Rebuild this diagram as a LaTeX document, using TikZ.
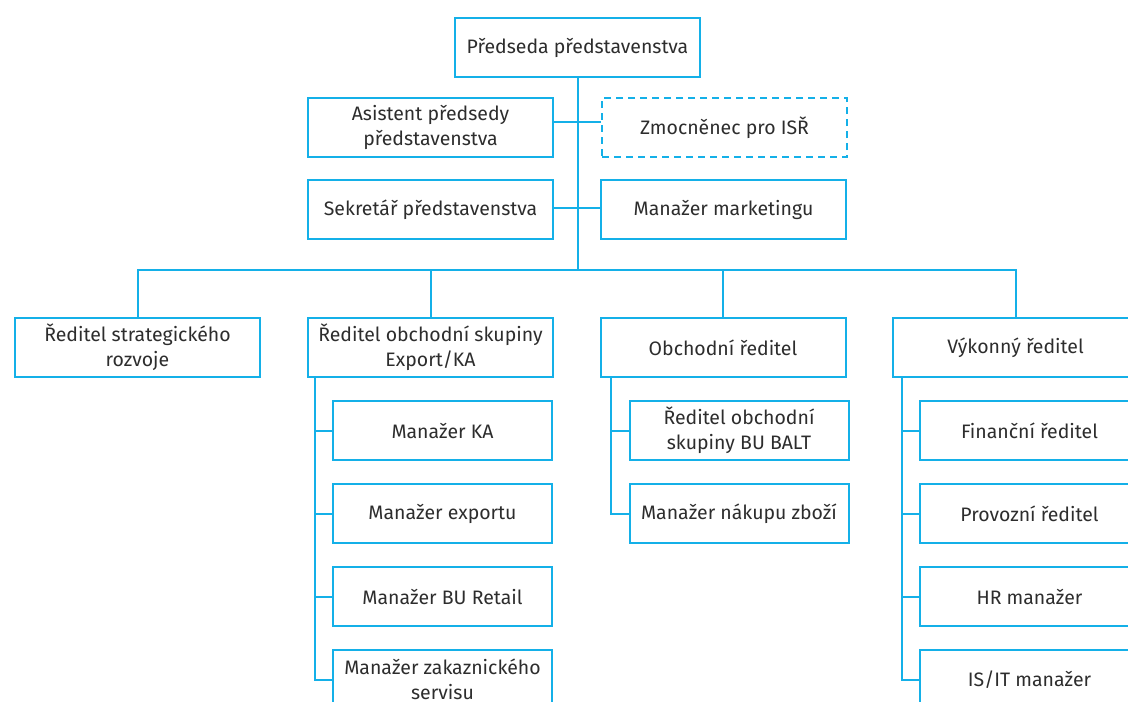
\documentclass[tikz,border=0pt]{standalone}
\usepackage{fontspec}
\setmainfont{Fira Sans}
\definecolor{orgblue}{RGB}{20,176,232}
\definecolor{orgtext}{RGB}{45,45,45}
\tikzset{every picture/.style={line width=1.5pt}}
\tikzset{
  orgbox/.style={draw=orgblue, fill=white, line width=1.5pt, minimum width=183.75pt, minimum height=44.25pt,
    inner sep=0pt, align=center, text=orgtext, font=\fontsize{14.6}{18.75}\selectfont},
  subbox/.style={orgbox, minimum width=164.25pt},
  dashbox/.style={orgbox, dash pattern=on 5.25pt off 3.75pt},
  link/.style={draw=orgblue, line width=1.5pt}
}

\begin{document}
\begin{tikzpicture}[x=0.75pt,y=0.75pt,yscale=-1,xscale=1]
\useasboundingbox (0,0) rectangle (1128,701);
\clip (0,0) rectangle (1128,701);

%Shape: Box top
\node [orgbox] (pred) at (577.5,47.5) {Předseda představenstva};
%Shape: Boxes staff
\node [orgbox] (asist) at (430.5,127.5) {Asistent předsedy\\představenstva};
\node [dashbox] (zmoc) at (724.5,127.5) {Zmocněnec pro ISŘ};
\node [orgbox] (sekr) at (430.5,209.5) {Sekretář představenstva};
\node [orgbox] (mark) at (723.5,209.5) {Manažer marketingu};

%Shape: Boxes directors
\node [orgbox] (strat) at (137.5,347.5) {Ředitel strategického\\rozvoje};
\node [orgbox] (export) at (430.5,347.5) {Ředitel obchodní skupiny\\Export/KA};
\node [orgbox] (obch) at (723,347.5) {Obchodní ředitel};
\node [orgbox] (vyk) at (1015.5,347.5) {Výkonný ředitel};

%Shape: Boxes Export/KA
\node [subbox] (ka) at (442.5,430.5) {Manažer KA};
\node [subbox] (exp) at (442.5,513.5) {Manažer exportu};
\node [subbox] (retail) at (442.5,596.5) {Manažer BU Retail};
\node [subbox] (zak) at (442.5,679.5) {Manažer zakaznického\\servisu};

%Shape: Boxes Obchodní ředitel
\node [subbox] (balt) at (739,430.5) {Ředitel obchodní\\skupiny BU BALT};
\node [subbox] (nakup) at (739,513.5) {Manažer nákupu zboží};

%Shape: Boxes Výkonný ředitel
\node [subbox] (fin) at (1029.5,430.5) {Finanční ředitel};
\node [subbox] (prov) at (1029.5,513.5) {Provozní ředitel};
\node [subbox] (hr) at (1029.5,596.5) {HR manažer};
\node [subbox] (isit) at (1029.5,679.5) {IS/IT manažer};

\coordinate (bus) at (577.5,270);

%Straight Lines
\draw [link] (pred.south) -- (bus);
\draw [link] ([yshift=-4.5pt]asist.east) -- ([yshift=-4.5pt]zmoc.west);
\draw [link] ([yshift=-1.5pt]sekr.east) -- ([yshift=-1.5pt]mark.west);
\draw [link] (strat.north) |- (bus) -| (vyk.north);
\draw [link] (export.north) -- (export.north |- bus);
\draw [link] (obch.north) -- (obch.north |- bus);

%Straight Lines children
\foreach \c in {ka,exp,retail,zak}
  \draw [link] ([xshift=6pt]export.south west) |- (\c.west);
\foreach \c in {balt,nakup}
  \draw [link] ([xshift=8.25pt]obch.south west) |- (\c.west);
\foreach \c in {fin,prov,hr,isit}
  \draw [link] ([xshift=7.5pt]vyk.south west) |- (\c.west);

\end{tikzpicture}
\end{document}
